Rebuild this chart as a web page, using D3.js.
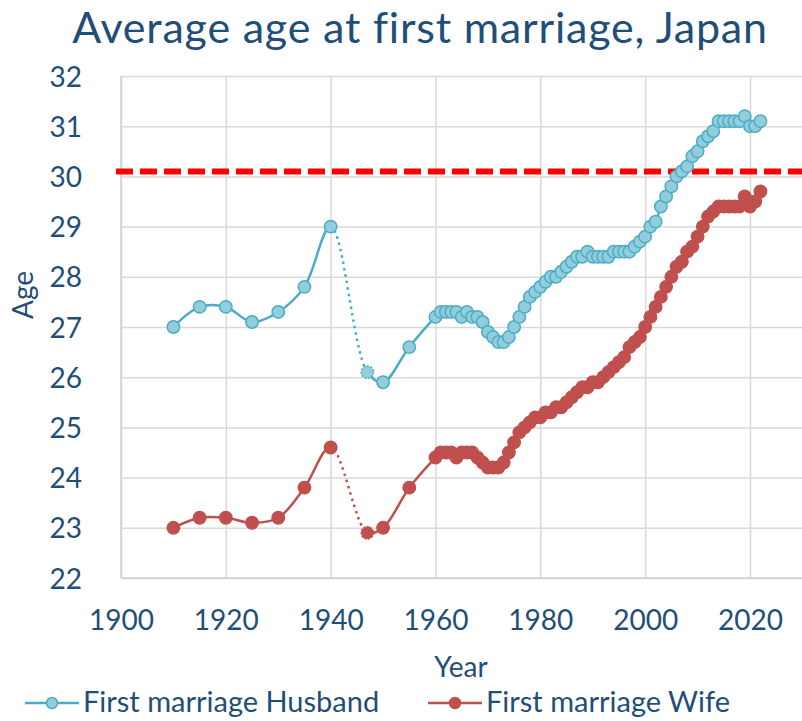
<!DOCTYPE html>
<html>
<head>
<meta charset="utf-8">
<script src="https://cdn.jsdelivr.net/npm/d3@7"></script>
<style>
  body { margin: 0; background: #fff; }
  svg { font-family: Lato, "Open Sans", sans-serif; }
</style>
</head>
<body>
<script>
// data
var years = [1910, 1915, 1920, 1925, 1930, 1935, 1940, 1947, 1950, 1955,
  1960, 1961, 1962, 1963, 1964, 1965, 1966, 1967, 1968, 1969,
  1970, 1971, 1972, 1973, 1974, 1975, 1976, 1977, 1978, 1979,
  1980, 1981, 1982, 1983, 1984, 1985, 1986, 1987, 1988, 1989,
  1990, 1991, 1992, 1993, 1994, 1995, 1996, 1997, 1998, 1999,
  2000, 2001, 2002, 2003, 2004, 2005, 2006, 2007, 2008, 2009,
  2010, 2011, 2012, 2013, 2014, 2015, 2016, 2017, 2018, 2019,
  2020, 2021, 2022];

var husband = [27.0, 27.4, 27.4, 27.1, 27.3, 27.8, 29.0, 26.1, 25.9, 26.6,
  27.2, 27.3, 27.3, 27.3, 27.3, 27.2, 27.3, 27.2, 27.2, 27.1,
  26.9, 26.8, 26.7, 26.7, 26.8, 27.0, 27.2, 27.4, 27.6, 27.7,
  27.8, 27.9, 28.0, 28.0, 28.1, 28.2, 28.3, 28.4, 28.4, 28.5,
  28.4, 28.4, 28.4, 28.4, 28.5, 28.5, 28.5, 28.5, 28.6, 28.7,
  28.8, 29.0, 29.1, 29.4, 29.6, 29.8, 30.0, 30.1, 30.2, 30.4,
  30.5, 30.7, 30.8, 30.9, 31.1, 31.1, 31.1, 31.1, 31.1, 31.2,
  31.0, 31.0, 31.1];

var wife = [23.0, 23.2, 23.2, 23.1, 23.2, 23.8, 24.6, 22.9, 23.0, 23.8,
  24.4, 24.5, 24.5, 24.5, 24.4, 24.5, 24.5, 24.5, 24.4, 24.3,
  24.2, 24.2, 24.2, 24.3, 24.5, 24.7, 24.9, 25.0, 25.1, 25.2,
  25.2, 25.3, 25.3, 25.4, 25.4, 25.5, 25.6, 25.7, 25.8, 25.8,
  25.9, 25.9, 26.0, 26.1, 26.2, 26.3, 26.4, 26.6, 26.7, 26.8,
  27.0, 27.2, 27.4, 27.6, 27.8, 28.0, 28.2, 28.3, 28.5, 28.6,
  28.8, 29.0, 29.2, 29.3, 29.4, 29.4, 29.4, 29.4, 29.4, 29.6,
  29.4, 29.5, 29.7];

var gapYears = [1940, 1947];   // dotted stretch (war years, no data)
var refLine = 30.1;
var xTicks = [1900, 1920, 1940, 1960, 1980, 2000, 2020];
var yTicks = [22, 23, 24, 25, 26, 27, 28, 29, 30, 31, 32];

var W = 802, H = 721;
var textCol = "#1F4E79";

var svg = d3.select("body").append("svg")
  .attr("width", W).attr("height", H);

var xScale = d3.scaleLinear().domain([1900, 2030]).range([121, 802.4]);
var yScale = d3.scaleLinear().domain([22, 32]).range([578, 76]);

// title
svg.append("text")
  .attr("x", 420).attr("y", 43)
  .attr("text-anchor", "middle")
  .attr("font-size", 43)
  .attr("letter-spacing", 0.8)
  .attr("fill", textCol)
  .text("Average age at first marriage, Japan");

// grid
var yAxis = d3.axisLeft(yScale).tickValues(yTicks).tickSize(-(802 - 121)).tickPadding(39);
var xAxis = d3.axisBottom(xScale).tickValues(xTicks).tickSize(-(578 - 76)).tickFormat(d3.format("d")).tickPadding(32);

var gy = svg.append("g").attr("transform", "translate(121,0)").call(yAxis);
var gx = svg.append("g").attr("transform", "translate(0,578)").call(xAxis);

[gx, gy].forEach(function(g) {
  g.select(".domain").remove();
  g.selectAll(".tick line").attr("stroke", "#D9D9D9").attr("stroke-width", 1.5);
  g.selectAll(".tick text").attr("fill", textCol).attr("font-size", 28)
    .attr("font-family", "Lato, sans-serif");
});
gy.selectAll(".tick text").attr("dy", "0.36em");

// plot frame left + bottom
svg.append("line").attr("x1", 121).attr("x2", 121).attr("y1", 76).attr("y2", 578)
  .attr("stroke", "#D0D0D0").attr("stroke-width", 1.5);
svg.append("line").attr("x1", 121).attr("x2", 802).attr("y1", 578).attr("y2", 578)
  .attr("stroke", "#D0D0D0").attr("stroke-width", 1.5);

// axis titles
svg.append("text").attr("x", 461).attr("y", 677).attr("text-anchor", "middle")
  .attr("font-size", 28).attr("fill", textCol).text("Year");
svg.append("text").attr("transform", "translate(33,295) rotate(-90)")
  .attr("text-anchor", "middle").attr("font-size", 28).attr("fill", textCol).text("Age");

// reference line
svg.append("line")
  .attr("x1", 116).attr("x2", 802)
  .attr("y1", yScale(refLine)).attr("y2", yScale(refLine))
  .attr("stroke", "#FF0000").attr("stroke-width", 6)
  .attr("stroke-dasharray", "17,7");

// clip paths: solid outside the gap, dotted inside
var defs = svg.append("defs");
var cs = defs.append("clipPath").attr("id", "solid");
cs.append("rect").attr("x", 0).attr("y", 0).attr("width", xScale(gapYears[0])).attr("height", H);
cs.append("rect").attr("x", xScale(gapYears[1])).attr("y", 0).attr("width", W).attr("height", H);
defs.append("clipPath").attr("id", "dotted").append("rect")
  .attr("x", xScale(gapYears[0])).attr("y", 0)
  .attr("width", xScale(gapYears[1]) - xScale(gapYears[0])).attr("height", H);

var series = [
  {name: "First marriage Husband", vals: husband, line: "#4BACC6", fill: "#92CDDC", stroke: "#4BACC6"},
  {name: "First marriage Wife", vals: wife, line: "#C0504D", fill: "#C0504D", stroke: "#C0504D"}
];

var lineGen = d3.line()
  .x(function(d) { return xScale(d[0]); })
  .y(function(d) { return yScale(d[1]); })
  .curve(d3.curveCatmullRom.alpha(0.5));

series.forEach(function(s) {
  var pts = years.map(function(y, i) { return [y, s.vals[i]]; });
  svg.append("path").datum(pts).attr("d", lineGen)
    .attr("fill", "none").attr("stroke", s.line).attr("stroke-width", 2.5)
    .attr("clip-path", "url(#solid)");
  svg.append("path").datum(pts).attr("d", lineGen)
    .attr("fill", "none").attr("stroke", s.line).attr("stroke-width", 2.5)
    .attr("stroke-dasharray", "2.5,4").attr("clip-path", "url(#dotted)");

  svg.append("g").selectAll("circle").data(pts).enter().append("circle")
    .attr("cx", function(d) { return xScale(d[0]); })
    .attr("cy", function(d) { return yScale(d[1]); })
    .attr("r", 6.2)
    .attr("fill", s.fill)
    .attr("stroke", s.stroke)
    .attr("stroke-width", 1.5)
    .attr("stroke-dasharray", function(d) { return d[0] === gapYears[1] ? "2,1.5" : null; });
});

// legend
var legendX = [25, 428];
series.forEach(function(s, i) {
  var g = svg.append("g").attr("transform", "translate(" + legendX[i] + ",703)");
  g.append("line").attr("x1", 0).attr("x2", 54).attr("stroke", s.line).attr("stroke-width", 2.5);
  g.append("circle").attr("cx", 27).attr("r", 5.5).attr("fill", s.fill).attr("stroke", s.stroke).attr("stroke-width", 1.5);
  g.append("text").attr("x", 58).attr("y", 9).attr("font-size", 29).attr("fill", textCol).text(s.name);
});
</script>
</body>
</html>
